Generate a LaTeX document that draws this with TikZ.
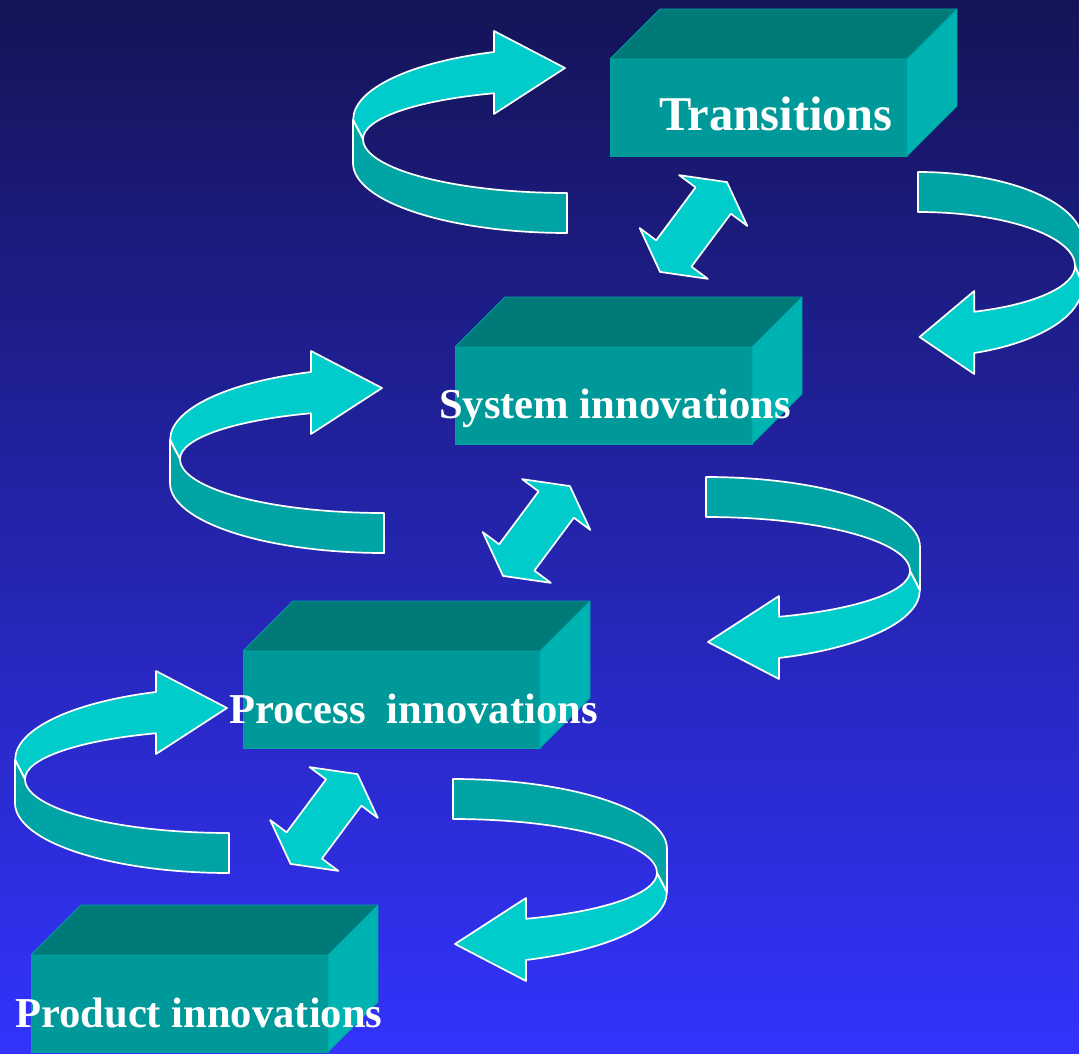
\documentclass[tikz,border=0pt]{standalone}
\usepackage{fontspec}
\setmainfont{Liberation Serif}
\definecolor{bgtop}{RGB}{20,20,88}
\definecolor{bgbot}{RGB}{51,51,252}
\definecolor{arrowlight}{RGB}{0,204,204}
\definecolor{arrowdark}{RGB}{0,164,164}
\definecolor{boxfront}{RGB}{0,153,153}
\definecolor{boxtop}{RGB}{0,122,120}
\definecolor{boxside}{RGB}{0,179,179}
\definecolor{boxedge}{RGB}{0,160,160}
\tikzset{
  bandlight/.style={fill=arrowlight, draw=white, line width=1.7pt, line join=round},
  banddark/.style={fill=arrowdark, draw=white, line width=1.7pt, line join=round},
  % ribbon that loops round to the left and comes back pointing right
  loop arrow/.pic={
    \path[banddark] (353,120) -- (353,163)
      arc[start angle=180, end angle=90, x radius=214, y radius=70]
      -- (567,193)
      arc[start angle=90, end angle=180, x radius=204, y radius=54] -- cycle;
    \path[bandlight] (494,52)
      arc[start angle=250, end angle=180, x radius=214, y radius=72]
      -- (363,139)
      arc[start angle=180, end angle=249, x radius=204, y radius=49]
      -- (494,114) -- (565,68) -- (494,31) -- cycle;
  },
  % two-headed block arrow along the local x axis
  twin arrow/.pic={
    \path[bandlight] (56,0) -- (33,42.5) -- (33,22) -- (-33,22) -- (-33,42.5)
      -- (-56,0) -- (-33,-42.5) -- (-33,-22) -- (33,-22) -- (33,-42.5) -- cycle;
  },
  frontface/.style={anchor=north west, minimum width=297pt, minimum height=97pt,
    inner sep=0pt, outer sep=0pt, fill=boxfront, draw=boxedge, line width=0.8pt},
  topface/.style={fill=boxtop, draw=boxedge, line width=0.8pt, line join=round},
  sideface/.style={fill=boxside, draw=boxedge, line width=0.8pt, line join=round},
  label/.style={anchor=base west, inner sep=0pt, text=white, font=\bfseries}
}
\begin{document}
\begin{tikzpicture}[x=1pt, y=-1pt]
\useasboundingbox (0,0) rectangle (1079,1054);
\clip (0,0) rectangle (1079,1054);
\shade[top color=bgtop, bottom color=bgbot] (0,0) rectangle (1079,1054);

% loops on the left of each level
\pic (loopL1) at (0,0) {loop arrow};
\pic (loopL2) at (-183,320) {loop arrow};
\pic (loopL3) at (-338,640) {loop arrow};
% loops on the right of each level
\pic[rotate=180, xscale=0.77] (loopR1) at (1354.6,405) {loop arrow};
\pic[rotate=180] (loopR2) at (1273,710) {loop arrow};
\pic[rotate=180] (loopR3) at (1020,1012) {loop arrow};

% two-way links between the levels
\pic[rotate=53.3] (link1) at (693.5,227) {twin arrow};
\pic[rotate=53.3] (link2) at (536.5,531) {twin arrow};
\pic[rotate=53.3] (link3) at (324,819) {twin arrow};

% the four blocks
\foreach \nm/\px/\py in {trans/610/59, sys/455/347, proc/243/651, prod/31/955}{
  \node[frontface] (\nm) at (\px,\py) {};
  \path[topface] (\nm.north west) -- ++(50,-50) -- ++(297,0) -- (\nm.north east) -- cycle;
  \path[sideface] (\nm.north east) -- ++(50,-50) -- ++(0,97) -- (\nm.south east) -- cycle;
}

\node[label, font=\bfseries\fontsize{48.5}{56}\selectfont] (ttrans) at (659,131) {Transitions};
\node[label, font=\bfseries\fontsize{42.6}{50}\selectfont] (tsys) at (439,418) {System innovations};
\node[label, font=\bfseries\fontsize{42.6}{50}\selectfont] (tproc) at (229,723) {Process~ innovations};
\node[label, font=\bfseries\fontsize{42.6}{50}\selectfont] (tprod) at (15,1027) {Product innovations};
\end{tikzpicture}
\end{document}
